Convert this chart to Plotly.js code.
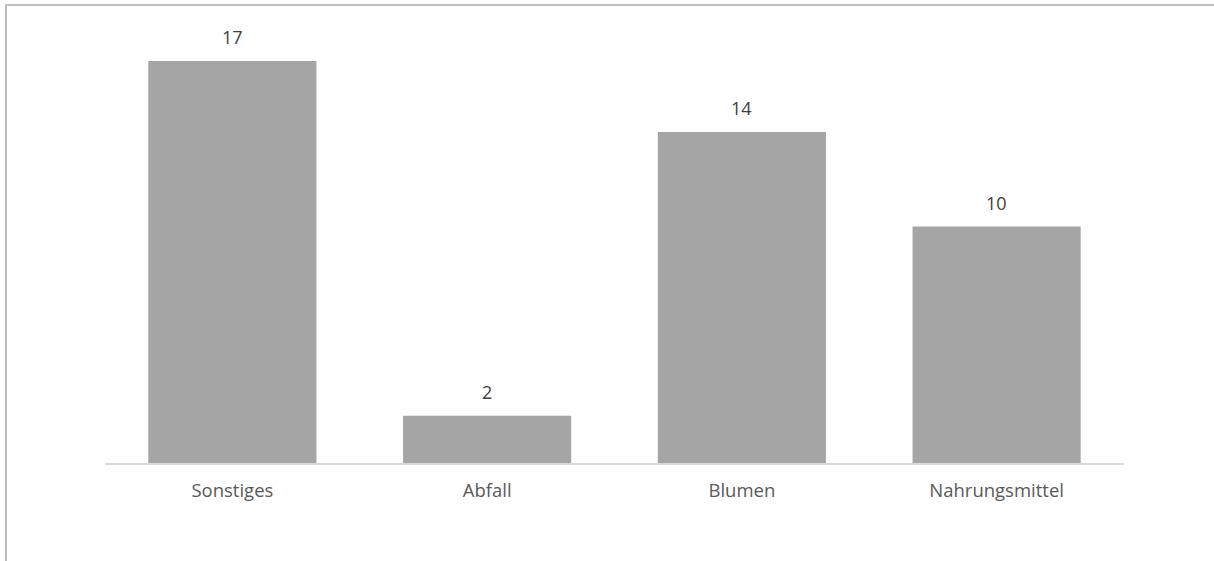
<!DOCTYPE html>
<html>
<head>
<meta charset="utf-8">
<script src="https://cdn.plot.ly/plotly-3.0.1.min.js"></script>
<style>
  html, body { margin: 0; padding: 0; background: #fff; }
  #wrap { position: relative; width: 1214px; height: 561px; }
  #chart { width: 1214px; height: 561px; }
  #frame { position: absolute; left: 5px; top: 4px; right: 0; bottom: 0;
           border-top: 2px solid #bfbfbf; border-left: 2px solid #bfbfbf; pointer-events: none; }
</style>
</head>
<body>
<div id="wrap">
  <div id="chart"></div>
  <div id="frame"></div>
</div>
<script>
const categories = ["Sonstiges", "Abfall", "Blumen", "Nahrungsmittel"];
const values = [17, 2, 14, 10];

const trace = {
  type: "bar",
  x: categories,
  y: values,
  marker: { color: "#a5a5a5" },
  hoverinfo: "x+y"
};

const annotations = categories.map((c, i) => ({
  x: c, y: values[i], xref: "x", yref: "y",
  text: String(values[i]), showarrow: false,
  yanchor: "bottom", yshift: 10,
  font: { family: "'Open Sans', sans-serif", size: 18, color: "#404040" }
}));

const layout = {
  width: 1214, height: 561,
  margin: { l: 105, r: 90, t: 30, b: 98 },
  paper_bgcolor: "#ffffff", plot_bgcolor: "#ffffff",
  bargap: 0.34,
  showlegend: false,
  font: { family: "'Open Sans', sans-serif", size: 18, color: "#595959" },
  xaxis: {
    showgrid: false, zeroline: false, showline: true, linecolor: "#d9d9d9", linewidth: 2,
    ticks: "", tickfont: { size: 18.5, color: "#595959" }, ticklabelstandoff: 10
  },
  yaxis: { range: [0, 18.31], visible: false, showgrid: false, zeroline: false },
  annotations: annotations
};

Plotly.newPlot("chart", [trace], layout, { displayModeBar: false, staticPlot: true });
</script>
</body>
</html>
